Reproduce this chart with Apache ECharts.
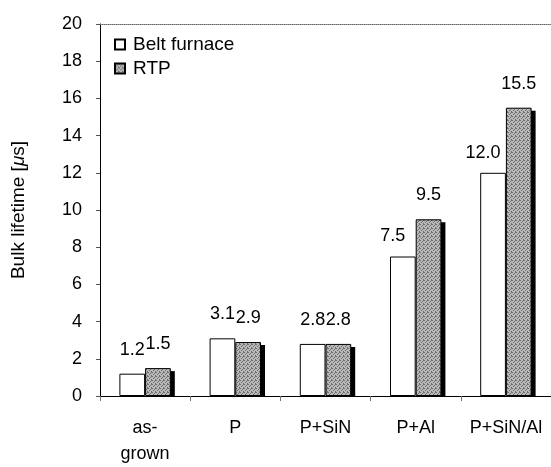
<!DOCTYPE html>
<html>
<head>
<meta charset="utf-8">
<script src="https://cdn.jsdelivr.net/npm/echarts@6/dist/echarts.min.js"></script>
<style>
  html, body { margin: 0; height: 100%; background: #fff; }
  #chart { width: 551px; height: 467px; }
</style>
</head>
<body>
<div id="chart"></div>
<script>
  const categories = ['as-\ngrown', 'P', 'P+SiN', 'P+Al', 'P+SiN/Al'];
  const beltFurnace = [1.2, 3.1, 2.8, 7.5, 12.0];
  const rtp = [1.5, 2.9, 2.8, 9.5, 15.5];
  const yTicks = { min: 0, max: 20, interval: 2 };

  // stippled grey fill like the printed figure
  const tile = document.createElement('canvas');
  tile.width = 4;
  tile.height = 4;
  const tctx = tile.getContext('2d');
  tctx.fillStyle = '#b9b9b9';
  tctx.fillRect(0, 0, 4, 4);
  tctx.fillStyle = '#6e6e6e';
  [[0, 0], [2, 1], [1, 2], [3, 3], [3, 0]].forEach(function (p) {
    tctx.fillRect(p[0], p[1], 1, 1);
  });
  const grey = { image: tile, repeat: 'repeat' };

  const catGap = 0.43;
  const font = 'Liberation Sans, Arial, sans-serif';
  const chart = echarts.init(document.getElementById('chart'), null, { renderer: 'canvas' });

  const valueLabel = {
    show: true, position: 'top', distance: 15,
    fontSize: 18, color: '#000', fontFamily: font,
    formatter: function (p) { return p.value.toFixed(1); }
  };

  // tall white bars: the label is pushed left, clear of the grey bar
  const beltData = beltFurnace.map(function (v) {
    return v > 5 ? { value: v, label: { offset: [-10, 4] } } : v;
  });

  const option = {
    animation: false,
    backgroundColor: '#fff',
    textStyle: { fontFamily: font, color: '#000' },
    grid: { left: 100, right: -4, top: 24, bottom: 64 },
    legend: {
      orient: 'vertical',
      left: 109,
      top: 30,
      itemWidth: 10,
      itemHeight: 10,
      itemGap: 5,
      icon: 'rect',
      textStyle: { fontSize: 19, color: '#000', fontFamily: font, padding: [0, 0, 0, 3] },
      data: ['Belt furnace', 'RTP']
    },
    xAxis: [{
      type: 'category',
      data: categories,
      axisLine: { lineStyle: { color: '#000', width: 1 } },
      axisTick: { show: true, length: 5, lineStyle: { color: '#777' } },
      axisLabel: { interval: 0, fontSize: 18, color: '#000', margin: 19, lineHeight: 26, fontFamily: font }
    }, {
      type: 'category',
      position: 'top',
      data: categories,
      axisLine: { lineStyle: { color: '#666', type: 'dotted', width: 1 } },
      axisTick: { show: false },
      axisLabel: { show: false }
    }],
    yAxis: {
      type: 'value',
      min: yTicks.min,
      max: yTicks.max,
      interval: yTicks.interval,
      name: 'Bulk lifetime [{i|μ}s]',
      nameLocation: 'middle',
      nameGap: 72,
      nameRotate: 90,
      nameTextStyle: {
        fontSize: 19, color: '#000', fontFamily: font,
        rich: { i: { fontSize: 19, fontStyle: 'italic', fontFamily: font } }
      },
      axisLine: { show: true, lineStyle: { color: '#000', width: 1 } },
      axisTick: { show: true, length: 4, lineStyle: { color: '#555' } },
      axisLabel: { fontSize: 18, color: '#000', margin: 18, fontFamily: font },
      splitLine: { show: false }
    },
    series: [{
      name: 'Belt furnace',
      type: 'bar',
      z: 4,
      data: beltData,
      barGap: '0%',
      barCategoryGap: (catGap * 100) + '%',
      itemStyle: { color: '#fff', borderColor: '#000', borderWidth: 1 },
      label: valueLabel
    }, {
      name: 'RTP',
      type: 'bar',
      data: rtp,
      z: 3,
      itemStyle: { color: grey, borderColor: '#000', borderWidth: 1 },
      label: valueLabel
    }, {
      // dark drop shadow to the right of the RTP bars
      name: 'rtpShadow',
      type: 'custom',
      z: 1,
      silent: true,
      data: rtp.map(function (v, i) { return [i, v]; }),
      renderItem: function (params, api) {
        const top = api.coord([api.value(0), api.value(1)]);
        const base = api.coord([api.value(0), 0]);
        const band = api.size([1, 0])[0];
        const w = band * (1 - catGap) / 2;
        return {
          type: 'rect',
          shape: { x: top[0] + 4, y: top[1] + 3, width: w, height: base[1] - top[1] - 3 },
          style: { fill: '#000' }
        };
      }
    }]
  };

  chart.setOption(option);
</script>
</body>
</html>
